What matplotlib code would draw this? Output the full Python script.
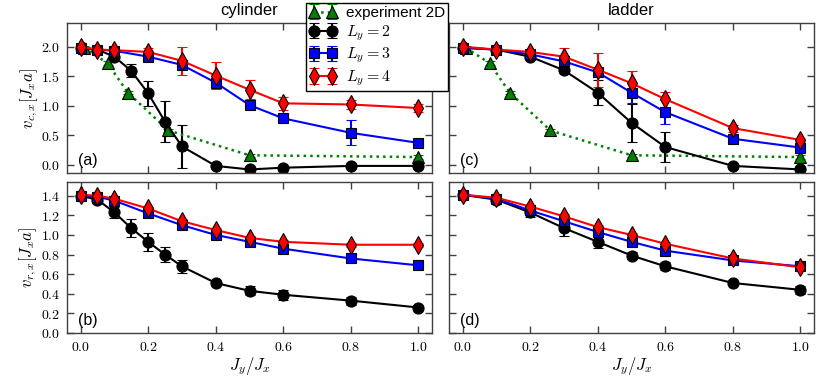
import matplotlib
matplotlib.use('Agg')
import matplotlib.pyplot as plt
from matplotlib.ticker import FuncFormatter, MultipleLocator

plt.rcParams['mathtext.fontset'] = 'cm'
plt.rcParams['font.family'] = ['Liberation Sans', 'DejaVu Sans']

# experiment (2D), same in both top panels
x_exp = [0.01, 0.08, 0.14, 0.26, 0.5, 1.0]
vc_exp = [1.98, 1.72, 1.22, 0.58, 0.16, 0.13]
vc_exp_err = [0.03, 0.03, 0.03, 0.03, 0.03, 0.03]

# cylinder
x_cyl2 = [0.0, 0.05, 0.1, 0.15, 0.2, 0.25, 0.3, 0.4, 0.5, 0.6, 0.8, 1.0]
x_cyl = [0.0, 0.05, 0.1, 0.2, 0.3, 0.4, 0.5, 0.6, 0.8, 1.0]
vc_cyl_L2 = [1.98, 1.95, 1.83, 1.59, 1.21, 0.73, 0.31, -0.02, -0.08, -0.05, -0.02, -0.02]
vc_cyl_L2_err = [0.02, 0.02, 0.03, 0.11, 0.21, 0.35, 0.36, 0.02, 0.02, 0.02, 0.02, 0.02]
vc_cyl_L3 = [1.98, 1.95, 1.93, 1.83, 1.69, 1.39, 1.01, 0.785, 0.54, 0.37]
vc_cyl_L3_err = [0.03, 0.03, 0.03, 0.04, 0.05, 0.05, 0.06, 0.04, 0.21, 0.07]
vc_cyl_L4 = [2.0, 1.95, 1.94, 1.91, 1.76, 1.51, 1.27, 1.04, 1.02, 0.96]
vc_cyl_L4_err = [0.03, 0.03, 0.03, 0.06, 0.24, 0.23, 0.16, 0.11, 0.07, 0.06]

vr_cyl_L2 = [1.40, 1.36, 1.23, 1.07, 0.93, 0.80, 0.68, 0.51, 0.43, 0.39, 0.33, 0.26]
vr_cyl_L2_err = [0.02, 0.02, 0.06, 0.09, 0.09, 0.08, 0.065, 0.02, 0.045, 0.05, 0.04, 0.03]
vr_cyl_L3 = [1.40, 1.39, 1.35, 1.22, 1.10, 1.00, 0.93, 0.86, 0.76, 0.69]
vr_cyl_L3_err = [0.02, 0.02, 0.02, 0.02, 0.02, 0.02, 0.02, 0.02, 0.02, 0.02]
vr_cyl_L4 = [1.41, 1.40, 1.37, 1.27, 1.14, 1.05, 0.97, 0.93, 0.90, 0.90]
vr_cyl_L4_err = [0.02, 0.02, 0.02, 0.02, 0.02, 0.02, 0.02, 0.02, 0.02, 0.02]

# ladder
x_lad = [0.0, 0.1, 0.2, 0.3, 0.4, 0.5, 0.6, 0.8, 1.0]
vc_lad_L2 = [1.98, 1.95, 1.83, 1.60, 1.22, 0.71, 0.30, -0.02, -0.08]
vc_lad_L2_err = [0.02, 0.02, 0.03, 0.05, 0.21, 0.32, 0.26, 0.02, 0.02]
vc_lad_L3 = [1.98, 1.95, 1.87, 1.75, 1.565, 1.22, 0.89, 0.44, 0.29]
vc_lad_L3_err = [0.03, 0.03, 0.03, 0.05, 0.06, 0.17, 0.20, 0.07, 0.05]
vc_lad_L4 = [2.0, 1.95, 1.91, 1.83, 1.61, 1.38, 1.11, 0.62, 0.42]
vc_lad_L4_err = [0.03, 0.03, 0.04, 0.14, 0.29, 0.21, 0.13, 0.06, 0.04]

vr_lad_L2 = [1.41, 1.36, 1.23, 1.07, 0.93, 0.79, 0.68, 0.51, 0.44]
vr_lad_L2_err = [0.02, 0.02, 0.05, 0.08, 0.06, 0.04, 0.04, 0.02, 0.04]
vr_lad_L3 = [1.41, 1.37, 1.25, 1.14, 1.03, 0.93, 0.84, 0.74, 0.68]
vr_lad_L3_err = [0.02, 0.02, 0.02, 0.02, 0.02, 0.02, 0.02, 0.02, 0.02]
vr_lad_L4 = [1.41, 1.38, 1.29, 1.19, 1.08, 1.00, 0.91, 0.76, 0.67]
vr_lad_L4_err = [0.02, 0.02, 0.02, 0.02, 0.02, 0.02, 0.02, 0.02, 0.02]

labels = ['experiment 2D', r'$L_y=2$', r'$L_y=3$', r'$L_y=4$']

W, H = 831, 378
fig = plt.figure(figsize=(W / 100, H / 100), dpi=100)

ax_a = fig.add_axes([67 / W, 1 - 173 / H, 365 / W, 150 / H])
ax_c = fig.add_axes([449 / W, 1 - 173 / H, 365 / W, 150 / H])
ax_b = fig.add_axes([67 / W, 1 - 333 / H, 365 / W, 151 / H])
ax_d = fig.add_axes([449 / W, 1 - 333 / H, 365 / W, 151 / H])

mstyle = dict(lw=1.5, elinewidth=1.5, capsize=3.5, capthick=1.2, mec='k', mew=0.8)


def draw(ax, xs, ys, errs, with_exp):
    handles = []
    if with_exp:
        h = ax.errorbar(x_exp, vc_exp, yerr=vc_exp_err, color='#007f00', ls=':', marker='^',
                        ms=8, mfc='#007f00', **dict(mstyle, lw=1.8))
        handles.append(h)
    for x, y, e, c, m, ms in zip(xs, ys, errs, ['k', 'b', 'r'], ['o', 's', 'd'], [8, 7.5, 9]):
        h = ax.errorbar(x, y, yerr=e, color=c, marker=m, ms=ms, mfc=c, **mstyle)
        handles.append(h)
    return handles


handles = draw(ax_a, [x_cyl2, x_cyl, x_cyl], [vc_cyl_L2, vc_cyl_L3, vc_cyl_L4],
               [vc_cyl_L2_err, vc_cyl_L3_err, vc_cyl_L4_err], True)
draw(ax_c, [x_lad, x_lad, x_lad], [vc_lad_L2, vc_lad_L3, vc_lad_L4],
     [vc_lad_L2_err, vc_lad_L3_err, vc_lad_L4_err], True)
draw(ax_b, [x_cyl2, x_cyl, x_cyl], [vr_cyl_L2, vr_cyl_L3, vr_cyl_L4],
     [vr_cyl_L2_err, vr_cyl_L3_err, vr_cyl_L4_err], False)
draw(ax_d, [x_lad, x_lad, x_lad], [vr_lad_L2, vr_lad_L3, vr_lad_L4],
     [vr_lad_L2_err, vr_lad_L3_err, vr_lad_L4_err], False)

fmt = FuncFormatter(lambda v, p: r'$%.1f$' % v)
for ax, tag in zip([ax_a, ax_b, ax_c, ax_d], ['(a)', '(b)', '(c)', '(d)']):
    ax.set_xlim(-0.04, 1.04)
    ax.xaxis.set_major_locator(MultipleLocator(0.2))
    ax.xaxis.set_major_formatter(fmt)
    ax.yaxis.set_major_formatter(fmt)
    ax.tick_params(direction='in', top=True, right=True, length=5, width=1,
                   color='0.25', labelsize=10, pad=5)
    for s in ax.spines.values():
        s.set_color('0.25')
        s.set_linewidth(1.0)
    ax.text(0.03, 0.08, tag, transform=ax.transAxes, fontsize=11.5, va='center')

for ax in [ax_a, ax_c]:
    ax.set_ylim(-0.14, 2.4)
    ax.yaxis.set_major_locator(MultipleLocator(0.5))
    ax.tick_params(labelbottom=False)
for ax in [ax_b, ax_d]:
    ax.set_ylim(0.0, 1.54)
    ax.yaxis.set_major_locator(MultipleLocator(0.2))
    ax.set_xlabel(r'$J_y/J_x$', fontsize=12, labelpad=1)
for ax in [ax_c, ax_d]:
    ax.tick_params(labelleft=False)

ax_a.set_ylabel(r'$v_{c,x}[J_xa]$', fontsize=12, labelpad=1)
ax_b.set_ylabel(r'$v_{r,x}[J_xa]$', fontsize=12, labelpad=1)
ax_a.set_title('cylinder', fontsize=12, pad=6)
ax_c.set_title('ladder', fontsize=12, pad=6)

leg = fig.legend(handles, labels, loc='upper left', bbox_to_anchor=(306 / W, 1 - 3 / H),
                 numpoints=2, fancybox=False, edgecolor='k', framealpha=1, borderaxespad=0,
                 fontsize=11, handlelength=1.8, labelspacing=0.2, borderpad=0.2,
                 handletextpad=0.6)
for t in leg.get_texts()[1:]:
    t.set_fontsize(11.5)

fig.savefig('out.png', dpi=100)
